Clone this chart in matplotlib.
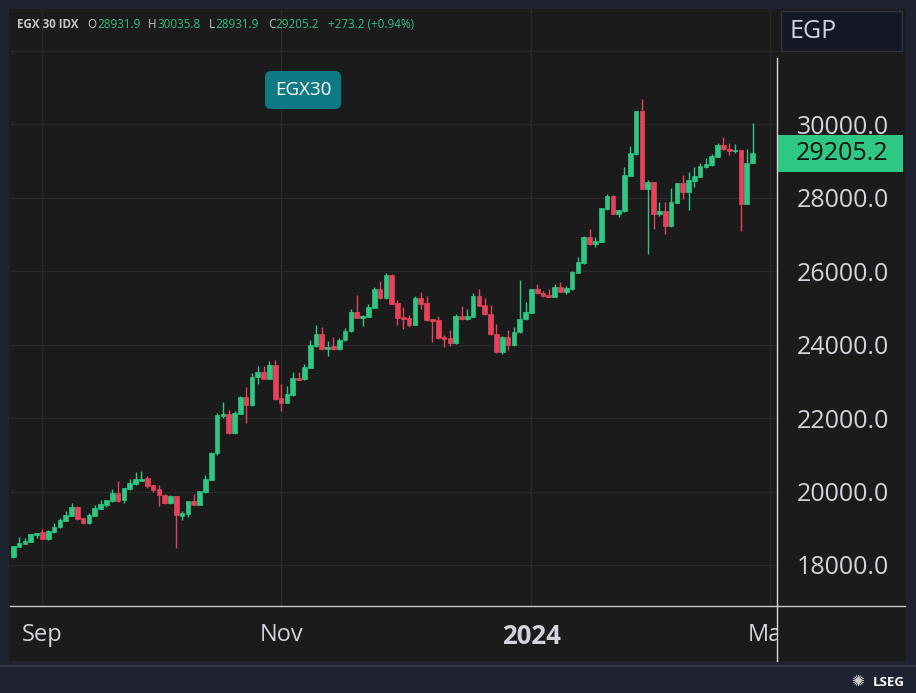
import numpy as np
import matplotlib.pyplot as plt
from matplotlib.patches import Rectangle, FancyBboxPatch
from matplotlib.lines import Line2D
from matplotlib.transforms import blended_transform_factory, IdentityTransform

# EGX 30 daily candles, late Aug 2023 -> late Feb 2024
opens = [18210, 18500, 18570, 18635, 18815, 18900, 18700, 18890, 19025, 19205,
         19335, 19580, 19280, 19135, 19340, 19535, 19635, 19730, 19960, 19770,
         20070, 20195, 20295, 20360, 20175, 20060, 19905, 19695, 19875, 19340,
         19390, 19740, 19640, 19985, 20315, 21050, 22065, 22110, 21585, 22120,
         22560, 22355, 23105, 23250, 23070, 23440, 22545, 22410, 22625, 23095,
         23050, 23370, 23960, 24295, 23885, 23950, 23875, 24115, 24360, 24885,
         24730, 24755, 24990, 25520, 25255, 25890, 25120, 24750, 24730, 24530,
         25255, 25120, 24695, 24665, 24205, 24185, 24030, 24775, 24695, 24755,
         25330, 25075, 24820, 24285, 23785, 24215, 23985, 24330, 24685, 24865,
         25500, 25410, 25345, 25300, 25575, 25440, 25500, 25955, 26220, 26925,
         26725, 26800, 27685, 28050, 27550, 27625, 28595, 29185, 30345, 28230,
         28420, 27550, 27640, 27225, 27860, 28385, 28160, 28460, 28565, 28820,
         28885, 29100, 29430, 29320, 29265, 29295, 27825, 28931.9]
highs = [18530, 18750, 18730, 18850, 18880, 18970, 18940, 19150, 19270, 19470,
         19690, 19605, 19290, 19415, 19625, 19770, 19780, 20070, 20280, 20100,
         20330, 20520, 20550, 20430, 20190, 20170, 19940, 19905, 19890, 19480,
         19740, 19930, 20020, 20450, 21080, 22130, 22425, 22220, 22190, 22610,
         22835, 23215, 23425, 23405, 23540, 23580, 22915, 22880, 23245, 23245,
         23460, 24130, 24530, 24475, 24085, 24215, 24175, 24450, 24955, 25345,
         24790, 25100, 25555, 25730, 25945, 25920, 25210, 25020, 24800, 25310,
         25435, 25320, 24700, 24775, 24260, 24395, 24820, 25045, 24955, 25400,
         25510, 25255, 25065, 24550, 24230, 24395, 24475, 25765, 25145, 25520,
         25655, 25455, 25500, 25635, 25700, 25600, 26000, 26370, 26940, 27145,
         26915, 27720, 28105, 28060, 27670, 28820, 29410, 30360, 30690, 28465,
         28430, 27885, 27870, 28260, 28400, 28610, 28685, 28820, 28950, 29065,
         29175, 29475, 29645, 29475, 29455, 29300, 29320, 30035.8]
lows = [18200, 18490, 18560, 18620, 18725, 18700, 18690, 18880, 19010, 19190,
        19320, 19235, 19120, 19120, 19330, 19520, 19585, 19720, 19715, 19695,
        20050, 20180, 20280, 20095, 19995, 19615, 19670, 19670, 18470, 19235,
        19295, 19630, 19630, 19970, 20300, 21000, 21990, 21570, 21570, 22100,
        21875, 22340, 22915, 23060, 23060, 22500, 22200, 22400, 22610, 23030,
        23040, 23360, 23940, 23850, 23685, 23860, 23860, 24100, 24340, 24720,
        24510, 24740, 24980, 25240, 25240, 25090, 24530, 24415, 24475, 24520,
        24955, 24650, 24060, 24150, 23940, 23970, 24020, 24680, 24680, 24740,
        25040, 24810, 24260, 23770, 23730, 23850, 23970, 24320, 24670, 24850,
        25380, 25300, 25280, 25290, 25420, 25365, 25490, 25940, 26200, 26710,
        26660, 26780, 27670, 27540, 27480, 27610, 28580, 29170, 28220, 26455,
        27145, 27505, 27015, 27210, 27840, 27960, 27670, 28295, 28550, 28800,
        28870, 29090, 29300, 29155, 29200, 27100, 27810, 28931.9]
closes = [18520, 18590, 18650, 18835, 18880, 18705, 18915, 19045, 19225, 19360,
          19580, 19260, 19135, 19360, 19550, 19660, 19770, 19960, 19730, 20085,
          20220, 20330, 20340, 20140, 20040, 19895, 19695, 19875, 19350, 19415,
          19730, 19640, 20005, 20330, 21050, 22080, 22110, 21585, 22125, 22560,
          22355, 23125, 23250, 23070, 23435, 22520, 22415, 22645, 23095, 23045,
          23390, 23975, 24295, 23870, 23940, 23875, 24130, 24365, 24885, 24730,
          24775, 25010, 25520, 25255, 25890, 25105, 24730, 24695, 24530, 25255,
          25100, 24665, 24650, 24170, 24160, 24030, 24775, 24695, 24775, 25330,
          25055, 24820, 24275, 23785, 24215, 23985, 24350, 24695, 24895, 25500,
          25390, 25320, 25290, 25575, 25440, 25530, 25980, 26235, 26925, 26725,
          26825, 27705, 28050, 27550, 27660, 28610, 29220, 30345, 28230, 28420,
          27550, 27640, 27225, 27885, 28385, 28160, 28475, 28585, 28850, 28905,
          29120, 29430, 29310, 29265, 29295, 27825, 28932.0, 29205.2]

month_labels = ["Sep", "Nov", "2024", "Mar"]
month_bars = [5, 46, 89, 130]
price_ticks = [18000, 20000, 22000, 24000, 26000, 28000, 30000, 32000]

UP = "#2ec784"
DOWN = "#e5425c"
BG = "#1b1b1b"
FRAME = "#1f2331"
TXT = "#d1d4dc"
W, H = 916, 693

plt.rcParams["font.family"] = ["Open Sans", "DejaVu Sans"]


def fx(px):
    return px / W


def fy(py):
    return 1 - py / H


fig = plt.figure(figsize=(W / 100, H / 100), dpi=100, facecolor=FRAME)
fig.add_artist(Rectangle((fx(9), fy(661)), fx(906) - fx(9), fy(9) - fy(661),
                         transform=fig.transFigure, facecolor=BG, edgecolor="none", zorder=-1))
fig.add_artist(Line2D([0, 1], [fy(666), fy(666)], transform=fig.transFigure,
                      color="#3a3f4c", lw=1.2))

ax = fig.add_axes([fx(10), fy(606), fx(777) - fx(10), fy(10) - fy(606)])
ax.set_facecolor(BG)

# candles
for i in range(len(opens)):
    o, h, l, c = opens[i], highs[i], lows[i], closes[i]
    col = UP if c >= o else DOWN
    ax.vlines(i, l, h, color=col, lw=1, zorder=2)
    ax.bar(i, max(abs(c - o), 30), bottom=min(o, c), width=0.8, color=col,
           edgecolor=col, lw=0.5, zorder=3)

ax.set_xlim(-0.57, 131.2)
ax.set_ylim(30000 - 482 / 36.75 * 1000, 30000 + 114 / 36.75 * 1000)

ax.set_yticks(price_ticks)
ax.set_yticklabels([f"{p:.1f}" if p < 32000 else "" for p in price_ticks])
ax.yaxis.tick_right()
ax.set_xticks(month_bars)
ax.set_xticklabels(month_labels)
for lab in ax.get_xticklabels():
    if lab.get_text() == "2024":
        lab.set_fontweight("bold")
        lab.set_fontsize(18.5)
ax.tick_params(axis="y", length=0, pad=14, labelsize=18, labelcolor=TXT)
ax.tick_params(axis="x", length=0, pad=12, labelcolor=TXT)
for lab in ax.get_xticklabels():
    if lab.get_text() != "2024":
        lab.set_fontsize(17)
ax.grid(True, color="#2a2a2a", lw=1)
ax.set_axisbelow(True)
for s in ax.spines.values():
    s.set_visible(False)

# hide the cut-off part of the last month label under the price scale
fig.add_artist(Rectangle((fx(778), fy(661)), fx(906) - fx(778), fy(607) - fy(661),
                         transform=fig.transFigure, facecolor=BG, edgecolor="none", zorder=3))

# scale borders
fig.add_artist(Line2D([fx(777), fx(777)], [fy(58), fy(661)], transform=fig.transFigure,
                      color="#d8d8d8", lw=1, zorder=4))
fig.add_artist(Line2D([fx(10), fx(905)], [fy(606), fy(606)], transform=fig.transFigure,
                      color="#c8c8c8", lw=1, zorder=4))

# last price label
last = closes[-1]
bt = blended_transform_factory(fig.transFigure, ax.transData)
fig.add_artist(Rectangle((fx(778), last - 500), fx(903) - fx(778), 1000, transform=bt,
                         facecolor=UP, edgecolor="none", zorder=5))
fig.text(fx(796), last, f"{last:.1f}", transform=bt, ha="left", va="center",
         fontsize=18, color="#111111", zorder=6)

# currency box
fig.add_artist(Rectangle((fx(781), fy(51)), fx(902) - fx(781), fy(11) - fy(51),
                         transform=fig.transFigure, facecolor="#141824",
                         edgecolor="#2f3342", lw=1, zorder=5))
fig.text(fx(789), fy(32), "EGP", ha="left", va="center", fontsize=18, color=TXT, zorder=6)

# series badge
fig.add_artist(FancyBboxPatch((265, H - 109), 76, 38, boxstyle="round,pad=0,rounding_size=6",
                              transform=IdentityTransform(), facecolor="#0f7a85",
                              edgecolor="none", zorder=5))
fig.text(fx(303), fy(90), "EGX30", ha="center", va="center", fontsize=13.5,
         color="white", zorder=6)

# header legend
prev = closes[-2]
chg = last - prev
gray, green = "#c4c4c4", "#31c07f"
pieces = [("EGX 30 IDX", 17, gray, "bold"),
          ("O", 87, gray, "normal"), (f"{opens[-1]:.1f}", 97, green, "normal"),
          ("H", 148, gray, "normal"), (f"{highs[-1]:.1f}", 157, green, "normal"),
          ("L", 209, gray, "normal"), (f"{lows[-1]:.1f}", 215, green, "normal"),
          ("C", 268, gray, "normal"), (f"{last:.1f}", 275, green, "normal"),
          (f"+{chg:.1f} (+{chg / prev * 100:.2f}%)", 328, green, "normal")]
for txt, px, col, wt in pieces:
    fig.text(fx(px), fy(24), txt, ha="left", va="center", fontsize=8.4,
             color=col, fontweight=wt, zorder=6)

# footer logo
fig.text(fx(858), fy(682), "\u273a", ha="center", va="center", fontsize=11,
         color="#cfcfcf", family="DejaVu Sans")
fig.text(fx(905), fy(682), "LSEG", ha="right", va="center", fontsize=9.5,
         color="white", fontweight="bold")

fig.savefig("out.png", dpi=100, facecolor=FRAME)
